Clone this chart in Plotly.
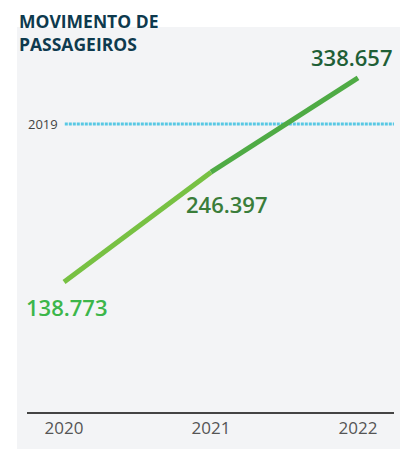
import plotly.graph_objects as go

# Passenger movement per year
years = [2020, 2021, 2022]
passengers = [138773, 246397, 338657]
ref_2019 = 293600
label_colors = ["#3cb64a", "#3a7d3a", "#1f5f36"]
seg_colors = ["#78c143", "#4fab45"]

def fmt(v):
    return f"{v:,}".replace(",", ".")

fig = go.Figure()

# panel background
fig.add_shape(type="rect", xref="paper", yref="paper", x0=-0.0272, x1=1.02,
              y0=-0.1, y1=1.0, fillcolor="#f3f4f6", line=dict(width=0),
              layer="below")

# line drawn segment by segment so the colour deepens toward the latest year
for i in range(len(years) - 1):
    fig.add_trace(go.Scatter(
        x=years[i:i + 2], y=passengers[i:i + 2], mode="lines",
        line=dict(color=seg_colors[i], width=5), hoverinfo="skip",
        showlegend=False,
    ))

# 2019 reference level
fig.add_shape(type="line", xref="paper", yref="y", x0=0.103, x1=1.0,
              y0=ref_2019, y1=ref_2019,
              line=dict(color="#58c8e4", width=3, dash="3px,1px"),
              layer="below")
fig.add_annotation(xref="paper", yref="y", x=0.044, y=ref_2019, text="2019",
                   xanchor="center", yanchor="middle", showarrow=False,
                   font=dict(size=13, color="#444444", family="Open Sans"))

# value labels
shifts = [(3, -25), (16, -32), (-6, 21)]
for xv, yv, c, (dx, dy) in zip(years, passengers, label_colors, shifts):
    fig.add_annotation(x=xv, y=yv, text=fmt(yv), showarrow=False,
                       xshift=dx, yshift=dy,
                       font=dict(size=22, color=c, family="Open Sans",
                                 weight=600))

fig.add_annotation(xref="paper", yref="paper", x=-0.0272, y=1.052,
                   xanchor="left", yanchor="top", align="left",
                   text="<b>MOVIMENTO DE<br>PASSAGEIROS</b>", showarrow=False,
                   font=dict(size=17.5, color="#0e3a4e", family="Open Sans"))

fig.update_layout(
    width=400, height=449,
    margin=dict(l=27, r=6, t=27, b=37),
    paper_bgcolor="white", plot_bgcolor="rgba(0,0,0,0)",
    xaxis=dict(range=[2019.748, 2022.245], tickvals=years,
               ticktext=[str(y) for y in years], showgrid=False,
               zeroline=False, showline=True, linecolor="#444444",
               linewidth=2, ticks="", fixedrange=True,
               tickfont=dict(size=17, color="#555555", family="Open Sans")),
    yaxis=dict(range=[11400, 388600], visible=False, fixedrange=True),
)

fig.write_html("out.html")
